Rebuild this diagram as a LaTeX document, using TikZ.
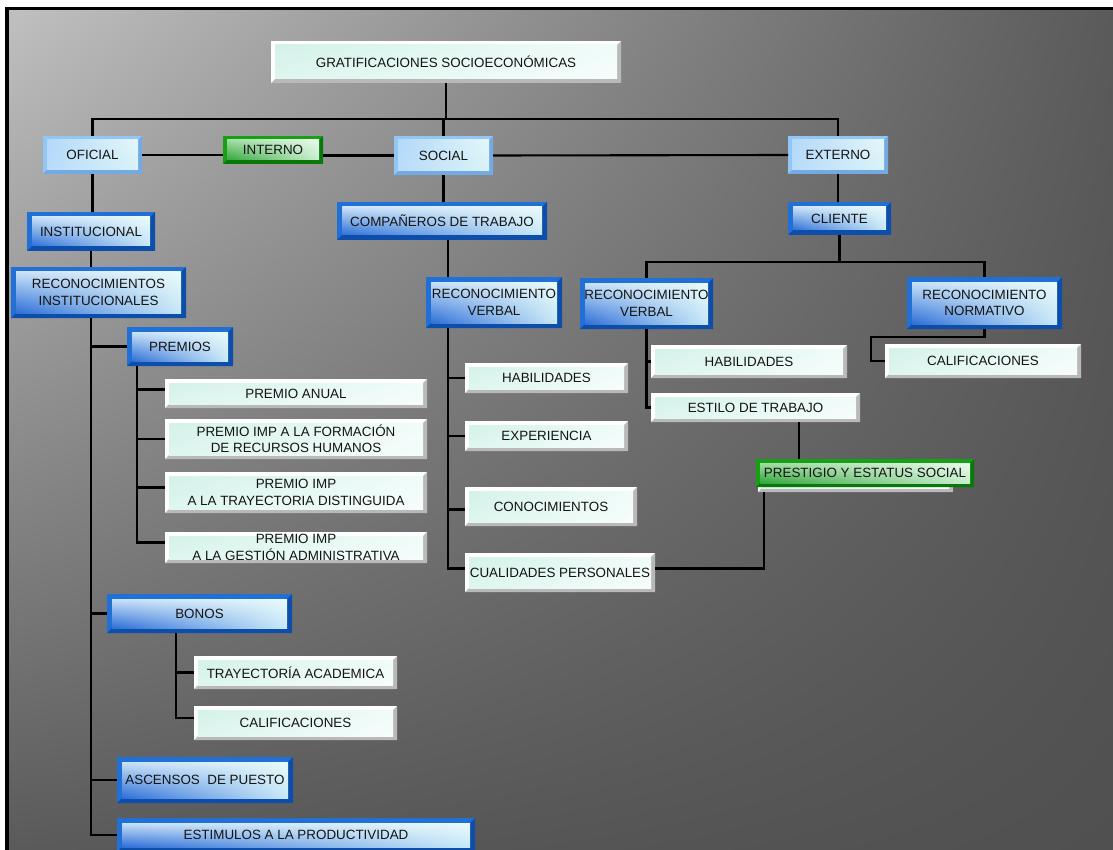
\documentclass[tikz,border=0pt]{standalone}
\usepackage{fontspec}
\setmainfont{Liberation Sans}
\usetikzlibrary{calc,shadings}

% background
\definecolor{bgUL}{RGB}{192,192,192}
\definecolor{bgUR}{RGB}{90,90,90}
\definecolor{bgLL}{RGB}{90,90,90}
\definecolor{bgLR}{RGB}{80,80,80}
\definecolor{txt}{RGB}{20,20,20}
% pale leaf boxes
\definecolor{lfOut}{RGB}{255,255,255}
\definecolor{lfDark}{RGB}{185,185,185}
\definecolor{lfUL}{RGB}{212,242,233}
\definecolor{lfUR}{RGB}{240,252,249}
\definecolor{lfLL}{RGB}{222,246,239}
\definecolor{lfLR}{RGB}{247,253,252}
% dark blue boxes
\definecolor{dbOut}{RGB}{32,112,214}
\definecolor{dbDark}{RGB}{12,78,170}
\definecolor{dbUL}{RGB}{200,225,248}
\definecolor{dbUR}{RGB}{232,250,250}
\definecolor{dbLL}{RGB}{45,110,215}
\definecolor{dbLR}{RGB}{200,232,248}
% light blue boxes
\definecolor{lbOut}{RGB}{145,198,245}
\definecolor{lbDark}{RGB}{115,170,228}
\definecolor{lbUL}{RGB}{178,216,250}
\definecolor{lbUR}{RGB}{228,247,250}
\definecolor{lbLL}{RGB}{185,220,250}
\definecolor{lbLR}{RGB}{215,242,246}
% green boxes
\definecolor{gnOut}{RGB}{22,160,22}
\definecolor{gnDark}{RGB}{8,120,8}
\definecolor{gnUL}{RGB}{160,220,160}
\definecolor{gnUR}{RGB}{232,248,236}
\definecolor{gnLL}{RGB}{50,165,60}
\definecolor{gnLR}{RGB}{200,238,205}

\tikzset{
  bevelfill/.style n args={7}{%
    fill=#1,
    path picture={
      \coordinate (bvSW) at (path picture bounding box.south west);
      \coordinate (bvNE) at (path picture bounding box.north east);
      \coordinate (bvSE) at (path picture bounding box.south east);
      \fill[#1] (bvSW) rectangle (bvNE);
      \fill[#2] (bvSW) -- (bvSE) -- (bvNE) -- ([shift={(-#7,-#7)}]bvNE)
        -- ([shift={(-#7,#7)}]bvSE) -- ([shift={(#7,#7)}]bvSW) -- cycle;
      \shade[upper left=#3, upper right=#4, lower left=#5, lower right=#6]
        ([shift={(#7,#7)}]bvSW) rectangle ([shift={(-#7,-#7)}]bvNE);
    }},
  box/.style={rectangle, inner sep=0pt, outer sep=0pt, align=center,
    text=txt, font=\fontsize{13.4}{16.5}\selectfont},
  leaf/.style={box, bevelfill={lfOut}{lfDark}{lfUL}{lfUR}{lfLL}{lfLR}{4pt}},
  dblue/.style={box, bevelfill={dbOut}{dbDark}{dbUL}{dbUR}{dbLL}{dbLR}{5pt}},
  lblue/.style={box, bevelfill={lbOut}{lbDark}{lbUL}{lbUR}{lbLL}{lbLR}{4pt}},
  grn/.style={box, bevelfill={gnOut}{gnDark}{gnUL}{gnUR}{gnLL}{gnLR}{4pt}},
  sz/.style 2 args={minimum width=#1, minimum height=#2},
  conn/.style={line width=2.1pt, black},
}

\begin{document}
\begin{tikzpicture}[x=1pt, y=-1pt]
\useasboundingbox (0,0) rectangle (1113,850);
\fill[white] (0,0) rectangle (1113,850);
\shade[upper left=bgUL, upper right=bgUR, lower left=bgLL, lower right=bgLR]
  (7,8.5) rectangle (1113,850);
\draw[line width=3.5pt] (7,850) -- (7,8.5) -- (1113,8.5);

% top level
\node[leaf, sz={350}{42}] (gs) at (446,62) {GRATIFICACIONES SOCIOECONÓMICAS};
\node[lblue, sz={99}{38}] (ofi) at (92.5,155) {OFICIAL};
\node[grn, sz={100}{28}] (int) at (273,150) {INTERNO};
\node[lblue, sz={99}{39}] (soc) at (443.5,155.5) {SOCIAL};
\node[lblue, sz={100}{38}] (ext) at (838,155) {EXTERNO};

% oficial branch
\node[dblue, sz={128}{39}] (inst) at (91,231.5) {INSTITUCIONAL};
\node[dblue, sz={175}{51}] (ri) at (98.5,292.5) {RECONOCIMIENTOS\\INSTITUCIONALES};
\node[dblue, sz={106}{39}] (pre) at (180,346.5) {PREMIOS};
\node[leaf, sz={262}{29}] (pa) at (296,393.5) {PREMIO ANUAL};
\node[leaf, sz={262}{40}] (pf) at (296,439) {PREMIO IMP A LA FORMACIÓN\\DE RECURSOS HUMANOS};
\node[leaf, sz={262}{41}] (pt) at (296,492.5) {PREMIO IMP\\A LA TRAYECTORIA DISTINGUIDA};
\node[leaf, sz={262}{31}] (pg) at (296,547.5) {PREMIO IMP\\A LA GESTIÓN ADMINISTRATIVA};
\node[dblue, sz={185}{39}] (bon) at (199.5,613.5) {BONOS};
\node[leaf, sz={203}{33}] (ta) at (295.5,672.5) {TRAYECTORÍA ACADEMICA};
\node[leaf, sz={203}{34}] (cal1) at (295.5,723) {CALIFICACIONES};
\node[dblue, sz={176}{46}] (asc) at (205,780) {ASCENSOS\ \ DE PUESTO};
\node[dblue, sz={358}{34}] (estm) at (296,835) {ESTIMULOS A LA PRODUCTIVIDAD};

% social branch
\node[dblue, sz={210}{38}] (comp) at (442,221) {COMPAÑEROS DE TRABAJO};
\node[dblue, sz={136}{51}] (rv1) at (494,302.5) {RECONOCIMIENTO\\VERBAL};
\node[leaf, sz={163}{30}] (hab1) at (546.5,378) {HABILIDADES};
\node[leaf, sz={163}{30}] (exp) at (546.5,436) {EXPERIENCIA};
\node[leaf, sz={172}{39}] (con) at (551,506.5) {CONOCIMIENTOS};
\node[leaf, sz={190}{39}] (cual) at (560,572.5) {CUALIDADES PERSONALES};

% externo branch
\node[dblue, sz={103}{33}] (cli) at (839.5,218.5) {CLIENTE};
\node[dblue, sz={133}{51}] (rv2) at (646.5,303.5) {RECONOCIMIENTO\\VERBAL};
\node[dblue, sz={155}{52}] (rn) at (984.5,303) {RECONOCIMIENTO\\NORMATIVO};
\node[leaf, sz={196}{33}] (hab2) at (749,361.5) {HABILIDADES};
\node[leaf, sz={209}{29}] (est2) at (755.5,407.5) {ESTILO DE TRABAJO};
\node[leaf, sz={196}{34}] (cal2) at (983,361) {CALIFICACIONES};
\node[leaf, sz={195}{27}] (prestbg) at (855.5,478.5) {};
\node[grn, sz={218}{28}] (prest) at (865,473) {PRESTIGIO Y ESTATUS SOCIAL};

% connectors: top level
\coordinate (bus) at (446,119);
\draw[conn] (gs.south) -- (bus);
\draw[conn] (ofi.north) |- (bus) -| (ext.north);
\draw[conn] (bus -| soc.north) -- (soc.north);
\draw[conn] (ofi.east) -- (ofi.east -| int.west);
\draw[conn] (int.east |- soc.west) -- (soc.west);
\draw[conn] (soc.east) -- (ext.west);

% connectors: oficial
\draw[conn] (ofi.south) -- (ofi.south |- inst.north);
\draw[conn] (inst.south) -- (inst.south |- ri.north);
\coordinate (riB) at (inst.south |- ri.south);
\draw[conn] (riB) |- (pre.west);
\draw[conn] (riB) |- (bon.west);
\draw[conn] (riB) |- (asc.west);
\draw[conn] (riB) |- (estm.west);
\coordinate (preB) at ([xshift=10pt]pre.south west);
\draw[conn] (preB) |- ([yshift=4pt]pa.west);
\draw[conn] (preB) |- (pf.west);
\draw[conn] (preB) |- ([yshift=5pt]pt.west);
\draw[conn] (preB) |- ([yshift=5pt]pg.west);
\coordinate (bonB) at ([xshift=69pt]bon.south west);
\draw[conn] (bonB) |- (ta.west);
\draw[conn] (bonB) |- ([yshift=5pt]cal1.west);

% connectors: social
\draw[conn] (soc.south) -- (soc.south |- comp.north);
\coordinate (cB) at ([xshift=6pt]comp.south);
\draw[conn] (cB) -- (cB |- rv1.north);
\coordinate (rvB) at (cB |- rv1.south);
\draw[conn] (rvB) |- (hab1.west);
\draw[conn] (rvB) |- (exp.west);
\draw[conn] (rvB) |- ([yshift=-3pt]con.west);
\draw[conn] (rvB) |- ([yshift=4pt]cual.west);
\draw[conn] ([yshift=4pt]cual.east) -| ([xshift=6pt]prestbg.south west);

% connectors: externo
\draw[conn] (ext.south) -- (ext.south |- cli.north);
\coordinate (bus2) at ([yshift=-27pt]cli.south);
\draw[conn] (cli.south) -- (bus2);
\draw[conn] (rv2.north) |- (bus2) -| (rn.north);
\draw[conn] (rv2.south) |- (hab2.west);
\draw[conn] (rv2.south) |- (est2.west);
\draw[conn] (rn.south) -- ++(0pt,-8pt) -| ([xshift=-14pt]cal2.west) -- (cal2.west);
\coordinate (eB) at ([xshift=43.5pt]est2.south);
\draw[conn] (eB) -- (eB |- prest.north);
\end{tikzpicture}
\end{document}
